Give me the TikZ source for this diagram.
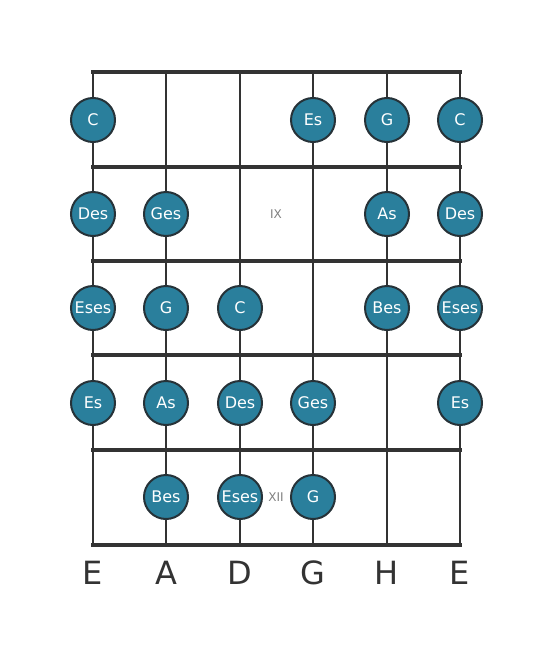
\documentclass[tikz,border=0pt]{standalone}
\usepackage{fontspec}
\setmainfont{DejaVu Sans}
\usetikzlibrary{calc}
\definecolor{notefill}{RGB}{42,127,156}
\definecolor{noteedge}{RGB}{38,50,56}
\definecolor{boardgray}{RGB}{51,51,51}
\tikzstyle{fretline}=[draw=boardgray,line width=4pt]
\tikzstyle{stringline}=[draw=boardgray,line width=2.5pt]
\tikzstyle{note}=[circle,fill=notefill,draw=noteedge,line width=2pt,minimum size=44pt,inner sep=0pt,text=white,font=\fontsize{16}{16}\selectfont]
\tikzstyle{fretnum}=[text=gray,font=\fontsize{12}{12}\selectfont]
\tikzstyle{tuning}=[text=boardgray,font=\fontsize{32}{32}\selectfont]

\begin{document}
\begin{tikzpicture}[x=1pt,y=-1pt]
  \useasboundingbox (0,0) rectangle (553,656);
  % strings
  \draw[stringline] (93,72) -- (93,545);
  \draw[stringline] (166,72) -- (166,545);
  \draw[stringline] (240,72) -- (240,545);
  \draw[stringline] (313,72) -- (313,545);
  \draw[stringline] (387,72) -- (387,545);
  \draw[stringline] (460,72) -- (460,545);
  % frets
  \draw[fretline] (91,72) -- (462,72);
  \draw[fretline] (91,167) -- (462,167);
  \draw[fretline] (91,261) -- (462,261);
  \draw[fretline] (91,355) -- (462,355);
  \draw[fretline] (91,450) -- (462,450);
  \draw[fretline] (91,545) -- (462,545);

  % fret markers
  \node[fretnum] (ix) at (276,214) {IX};
  \node[fretnum] (xii) at (276,497) {XII};

  % row 1
  \node[note] (c1) at (93,120) {C};
  \node[note] (es1) at (313,120) {Es};
  \node[note] (g1) at (387,120) {G};
  \node[note] (c2) at (460,120) {C};
  % row 2
  \node[note] (des1) at (93,214) {Des};
  \node[note] (ges1) at (166,214) {Ges};
  \node[note] (as1) at (387,214) {As};
  \node[note] (des2) at (460,214) {Des};
  % row 3
  \node[note] (eses1) at (93,308) {Eses};
  \node[note] (g2) at (166,308) {G};
  \node[note] (c3) at (240,308) {C};
  \node[note] (bes1) at (387,308) {Bes};
  \node[note] (eses2) at (460,308) {Eses};
  % row 4
  \node[note] (es2) at (93,403) {Es};
  \node[note] (as2) at (166,403) {As};
  \node[note] (des3) at (240,403) {Des};
  \node[note] (ges2) at (313,403) {Ges};
  \node[note] (es3) at (460,403) {Es};
  % row 5
  \node[note] (bes2) at (166,497) {Bes};
  \node[note] (eses3) at (240,497) {Eses};
  \node[note] (g3) at (313,497) {G};

  % tuning
  \node[tuning] (t1) at (93,573) {E};
  \node[tuning] (t2) at (166,573) {A};
  \node[tuning] (t3) at (240,573) {D};
  \node[tuning] (t4) at (313,573) {G};
  \node[tuning] (t5) at (387,573) {H};
  \node[tuning] (t6) at (460,573) {E};
\end{tikzpicture}
\end{document}
